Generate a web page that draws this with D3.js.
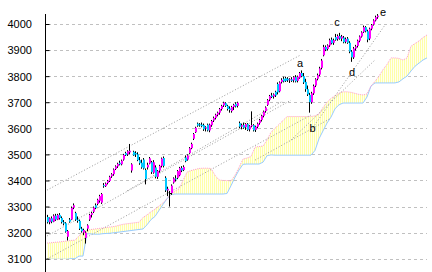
<!DOCTYPE html>
<html>
<head>
<meta charset="utf-8">
<script src="https://cdn.jsdelivr.net/npm/d3@7"></script>
<style>
  html, body { margin: 0; padding: 0; background: #fff; }
  svg { display: block; }
  text { font-family: "Liberation Sans", Arial, sans-serif; font-size: 11px; fill: #000; }
</style>
</head>
<body>
<svg id="chart" width="432" height="272"></svg>
<script>
// price ticks on the left axis
var tickLabels = [3100, 3200, 3300, 3400, 3500, 3600, 3700, 3800, 3900, 4000];

// daily candles: [open, high, low, close]
var candles = [
  [3260,3268,3235,3240],[3240,3258,3232,3255],[3255,3262,3236,3242],[3242,3270,3240,3265],[3265,3272,3245,3250],[3250,3272,3248,3268],
  [3268,3275,3250,3256],[3256,3262,3235,3240],[3240,3248,3228,3235],[3236,3240,3200,3204],[3184,3210,3170,3206],[3250,3256,3238,3242],
  [3250,3300,3248,3295],[3296,3312,3290,3305],[3275,3280,3245,3250],[3250,3262,3238,3245],[3245,3250,3210,3215],[3215,3222,3200,3205],
  [3200,3215,3190,3210],[3180,3205,3158,3200],[3215,3232,3205,3228],[3250,3272,3245,3268],[3268,3280,3258,3275],[3280,3300,3275,3296],
  [3305,3312,3290,3295],[3310,3330,3305,3326],[3322,3345,3315,3340],[3315,3352,3310,3348],[3382,3390,3372,3378],[3378,3392,3375,3388],
  [3390,3402,3385,3398],[3398,3418,3394,3414],[3416,3428,3410,3424],[3424,3446,3418,3442],[3444,3458,3440,3454],[3454,3468,3448,3464],
  [3468,3476,3458,3462],[3462,3480,3458,3476],[3480,3502,3476,3498],[3505,3510,3494,3497],[3500,3516,3494,3512],[3508,3540,3500,3514],
  [3438,3466,3430,3462],[3510,3514,3494,3496],[3505,3512,3490,3500],[3500,3508,3474,3478],[3478,3490,3460,3466],[3468,3480,3445,3450],
  [3480,3486,3442,3446],[3440,3446,3385,3405],[3450,3468,3442,3460],[3465,3490,3462,3485],[3470,3475,3425,3432],[3430,3478,3426,3470],
  [3450,3458,3408,3414],[3414,3440,3406,3436],[3438,3460,3430,3456],[3456,3488,3450,3484],[3486,3492,3450,3456],[3410,3416,3356,3362],
  [3362,3376,3340,3368],[3352,3360,3300,3350],[3352,3385,3345,3380],[3392,3412,3388,3408],[3408,3420,3396,3404],[3410,3440,3405,3436],
  [3420,3452,3416,3448],[3448,3455,3432,3438],[3440,3458,3436,3452],[3488,3496,3470,3474],[3480,3500,3476,3496],[3505,3528,3502,3524],
  [3524,3545,3520,3540],[3560,3582,3555,3578],[3585,3606,3582,3602],[3618,3622,3606,3610],[3615,3620,3606,3612],[3614,3622,3604,3608],
  [3612,3618,3590,3596],[3600,3608,3588,3604],[3614,3618,3588,3592],[3592,3618,3585,3614],[3612,3632,3606,3628],[3630,3645,3624,3640],
  [3640,3656,3634,3652],[3652,3664,3646,3660],[3660,3678,3652,3674],[3674,3690,3668,3686],[3688,3702,3682,3698],[3696,3700,3682,3686],
  [3686,3690,3668,3674],[3676,3684,3660,3670],[3666,3686,3660,3682],[3682,3694,3670,3690],[3694,3700,3680,3684],[3686,3702,3680,3698],
  [3620,3626,3600,3606],[3606,3618,3596,3612],[3612,3622,3598,3602],[3604,3620,3594,3616],[3616,3620,3590,3594],[3596,3612,3588,3608],
  [3608,3665,3604,3612],[3612,3616,3588,3592],[3594,3610,3586,3606],[3606,3622,3600,3618],[3620,3636,3614,3632],[3632,3652,3626,3648],
  [3648,3668,3642,3664],[3666,3684,3660,3680],[3690,3712,3686,3708],[3710,3728,3704,3724],[3726,3736,3716,3720],[3722,3734,3714,3730],
  [3740,3744,3720,3726],[3770,3776,3730,3738],[3742,3780,3738,3776],[3778,3792,3772,3786],[3790,3798,3776,3780],[3792,3798,3778,3782],
  [3790,3796,3778,3784],[3784,3792,3774,3788],[3788,3796,3778,3782],[3784,3800,3776,3796],[3796,3804,3776,3780],[3782,3802,3776,3798],
  [3794,3816,3790,3812],[3812,3822,3796,3800],[3800,3812,3770,3776],[3778,3790,3740,3750],[3750,3764,3724,3730],[3728,3736,3660,3700],
  [3700,3740,3694,3734],[3734,3768,3728,3762],[3764,3792,3758,3788],[3790,3810,3784,3804],[3806,3836,3800,3830],[3832,3866,3826,3860],
  [3880,3920,3876,3912],[3912,3918,3896,3902],[3904,3922,3898,3918],[3918,3944,3912,3938],[3940,3948,3922,3926],[3928,3944,3920,3938],
  [3950,3962,3936,3940],[3942,3960,3936,3954],[3954,3966,3940,3944],[3944,3958,3934,3952],[3948,3954,3926,3930],[3932,3948,3926,3942],
  [3944,3950,3924,3928],[3928,3934,3888,3894],[3894,3900,3855,3872],[3872,3912,3866,3906],[3906,3920,3898,3914],[3916,3940,3910,3936],
  [3936,3956,3930,3952],[3952,3972,3948,3968],[3970,3994,3966,3988],[3988,3992,3968,3972],[3972,3978,3930,3940],[3944,3986,3938,3982],
  [3982,4000,3976,3996],[3998,4018,3994,4014],[4014,4032,4010,4026],[4026,4038,4020,4032]
];

// cloud edges, one value every second session (index 0, 2, 4 ...)
var cloudUpper = [
  3160,3161,3163,3164,3166,3168,3170,3171,3188,3200,3210,3212,3214,3216,3218,3220,3222,3224,3228,3232,
  3234,3236,3238,3240,3258,3268,3280,3290,3302,3314,3330,3348,3360,3368,3400,3432,3438,3442,3446,3447,
  3447,3446,3420,3402,3400,3400,3398,3420,3450,3482,3486,3492,3528,3530,3532,3555,3585,3600,3615,3630,
  3645,3645,3645,3645,3645,3645,3645,3648,3655,3680,3700,3715,3725,3735,3740,3740,3738,3734,3730,3728,
  3732,3762,3780,3800,3825,3845,3870,3870,3868,3862,3870,3915,3925,3935,3948,3958
];
var cloudLower = [
  3098,3098,3098,3098,3098,3098,3100,3100,3110,3110,3196,3195,3194,3194,3196,3197,3198,3200,3202,3204,
  3206,3208,3210,3212,3214,3230,3250,3262,3285,3308,3330,3346,3348,3348,3348,3348,3348,3348,3348,3348,
  3348,3348,3348,3348,3348,3350,3380,3412,3440,3462,3463,3463,3463,3463,3470,3495,3498,3497,3497,3497,
  3497,3497,3497,3497,3497,3497,3497,3515,3560,3590,3620,3643,3675,3690,3697,3697,3697,3697,3697,3697,
  3720,3762,3774,3774,3774,3774,3774,3774,3778,3790,3800,3820,3838,3850,3862,3870
];

// dotted trend lines: [startIndex, startPrice, endIndex, endPrice]
var trendLines = [
  [0, 3363, 127, 3882],
  [0, 3187, 122, 3708],
  [0, 3099, 132, 3651],
  [40, 3360, 118, 3705],
  [104, 3478, 142, 3639],
  [122, 3555, 164, 3862],
  [132, 3593, 169, 3996]
];

// wave labels: [text, index, price]
var waveLabels = [["a", 126.5, 3835], ["b", 132.8, 3586], ["c", 145, 3992], ["d", 152.5, 3800], ["e", 168, 4031]];

var svg = d3.select("#chart");
var width = 432, height = 272;

var x = d3.scaleLinear().domain([0, 190]).range([47, 427]);
var y = d3.scaleLinear().domain([3100, 4000]).range([258.7, 24]);

svg.append("rect").attr("width", width).attr("height", height).style("fill", "#fff");

// grid
svg.append("g")
  .selectAll("line")
  .data(tickLabels)
  .enter().append("line")
    .attr("x1", 48).attr("x2", 427)
    .attr("y1", function(d){ return Math.round(y(d)) + 0.5; })
    .attr("y2", function(d){ return Math.round(y(d)) + 0.5; })
    .style("stroke", "#c0c0c0")
    .style("stroke-dasharray", "3,3");

// cloud stripes
var defs = svg.append("defs");
var pat = defs.append("pattern")
  .attr("id", "stripes")
  .attr("patternUnits", "userSpaceOnUse")
  .attr("width", 2).attr("height", 4);
pat.append("rect").attr("x", 0).attr("y", 0).attr("width", 2).attr("height", 4).style("fill", "#fffff0");
pat.append("rect").attr("x", 0).attr("y", 0).attr("width", 1).attr("height", 4).style("fill", "#ffffa8");

var cloudData = cloudUpper.map(function(u, k){ return {i: k * 2, u: u, l: cloudLower[k]}; });

defs.append("clipPath").attr("id", "plotClip")
  .append("rect").attr("x", 46).attr("y", 0).attr("width", 386).attr("height", 259);

var cloud = svg.append("g").attr("clip-path", "url(#plotClip)");
cloud.append("path")
  .datum(cloudData)
  .attr("d", d3.area()
    .x(function(d){ return x(d.i); })
    .y0(function(d){ return y(d.l); })
    .y1(function(d){ return y(d.u); }))
  .style("fill", "url(#stripes)");

cloud.append("path")
  .datum(cloudData)
  .attr("d", d3.line().x(function(d){ return x(d.i); }).y(function(d){ return y(d.l); }))
  .style("fill", "none").style("stroke", "#99ccff").style("stroke-width", 1);

cloud.append("path")
  .datum(cloudData)
  .attr("d", d3.line().x(function(d){ return x(d.i); }).y(function(d){ return y(d.u); }))
  .style("fill", "none").style("stroke", "#ff99cc").style("stroke-width", 1)
  .style("stroke-dasharray", "1,1");

// trend lines
svg.append("g")
  .selectAll("line")
  .data(trendLines)
  .enter().append("line")
    .attr("x1", function(d){ return x(d[0]); })
    .attr("y1", function(d){ return y(d[1]); })
    .attr("x2", function(d){ return x(d[2]); })
    .attr("y2", function(d){ return y(d[3]); })
    .style("stroke", "#999")
    .style("stroke-dasharray", "1,2");

// candles
var cg = svg.append("g").selectAll("g")
  .data(candles)
  .enter().append("g");

cg.append("line")
  .attr("x1", function(d, i){ return x(i) + 0.5; })
  .attr("x2", function(d, i){ return x(i) + 0.5; })
  .attr("y1", function(d){ return y(d[1]); })
  .attr("y2", function(d){ return y(d[2]); })
  .style("stroke", "#000");

cg.append("rect")
  .attr("x", function(d, i){ return x(i); })
  .attr("width", 2)
  .attr("y", function(d){ return y(Math.max(d[0], d[3])); })
  .attr("height", function(d){ return Math.max(1, Math.abs(y(d[0]) - y(d[3]))); })
  .style("fill", function(d){
    if (Math.abs(d[0] - d[3]) < 3) return "#000";
    return d[3] > d[0] ? "#ff00ff" : "#00c8ff";
  });

// axis
var axis = svg.append("g")
  .attr("transform", "translate(45.5,0)")
  .call(d3.axisLeft(y).tickValues(tickLabels).tickSize(-4).tickSizeOuter(0).tickFormat(d3.format("d")));
axis.select(".domain").remove();
axis.selectAll("line").style("stroke", "#000");
axis.selectAll("text")
  .attr("x", -38).attr("dy", "0.35em")
  .style("text-anchor", "start")
  .style("font-family", "'Liberation Sans', Arial, sans-serif")
  .style("font-size", "11px");
svg.append("line")
  .attr("x1", 45.5).attr("x2", 45.5).attr("y1", 14).attr("y2", 272)
  .style("stroke", "#000");

// wave labels
svg.append("g")
  .selectAll("text")
  .data(waveLabels)
  .enter().append("text")
    .attr("x", function(d){ return x(d[1]); })
    .attr("y", function(d){ return y(d[2]); })
    .style("text-anchor", "middle")
    .text(function(d){ return d[0]; });
</script>
</body>
</html>
